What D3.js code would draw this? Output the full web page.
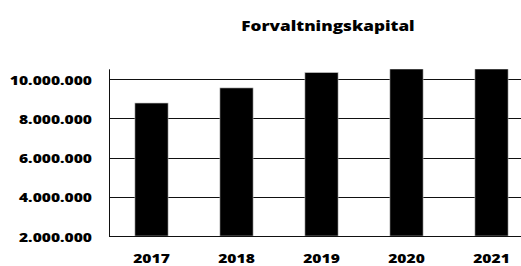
<!DOCTYPE html>
<html><head><meta charset="utf-8">
<script src="https://cdn.jsdelivr.net/npm/d3@7"></script>
<style>
html,body{margin:0;padding:0;background:#fff;}
svg{display:block;}
text{font-family:"Open Sans","Noto Sans",sans-serif;font-weight:800;fill:#000;}
</style></head>
<body>
<svg id="c" width="521" height="266"></svg>
<script>
const title = "Forvaltningskapital";
const years = ["2017","2018","2019","2020","2021"];
const values = [8780000, 9550000, 10330000, 10900000, 11000000];
const yTicks = [2000000, 4000000, 6000000, 8000000, 10000000];
const yDomain = [2000000, 10500000];

const svg = d3.select("#c");
const stretch = 1.3;
const pLeft = 109, pRight = 534, pTop = 69.3, pBottom = 236;

const x = d3.scaleBand().domain(years).range([pLeft, pRight]).paddingInner(0.61).paddingOuter(0.305);
const y = d3.scaleLinear().domain(yDomain).range([pBottom, pTop]);

const fmt = v => d3.format(",")(v).replace(/,/g, ".");

function stretchText(sel){
  sel.each(function(){
    const n = this.getComputedTextLength();
    d3.select(this).attr("textLength", n*stretch).attr("lengthAdjust","spacingAndGlyphs");
  });
}

// gridlines
svg.append("g").selectAll("line").data(yTicks.slice(1)).join("line")
  .attr("x1", pLeft).attr("x2", 521)
  .attr("y1", d => Math.round(y(d)) + 0.5).attr("y2", d => Math.round(y(d)) + 0.5)
  .attr("stroke", "#111").attr("stroke-width", 1);

// clip
svg.append("clipPath").attr("id","clip").append("rect")
  .attr("x", pLeft).attr("y", pTop).attr("width", pRight-pLeft).attr("height", pBottom-pTop);

// bars
svg.append("g").attr("clip-path","url(#clip)").selectAll("rect").data(years).join("rect")
  .attr("x", d => x(d)).attr("width", x.bandwidth())
  .attr("y", (d,i) => y(values[i])).attr("height", (d,i) => pBottom - y(values[i]))
  .attr("fill", "#000").attr("stroke", "#bbb").attr("stroke-width", 0.6);

// axes lines
svg.append("line").attr("x1", pLeft+0.5).attr("x2", pLeft+0.5).attr("y1", pTop).attr("y2", pBottom)
  .attr("stroke", "#111");
svg.append("line").attr("x1", pLeft).attr("x2", 521).attr("y1", pBottom+0.5).attr("y2", pBottom+0.5)
  .attr("stroke", "#111");

// y labels
svg.append("g").selectAll("text").data(yTicks).join("text")
  .attr("x", 92).attr("y", d => y(d) + 5.5)
  .attr("text-anchor", "end").attr("font-size", 12)
  .text(d => fmt(d)).call(stretchText);

// x labels
svg.append("g").selectAll("text").data(years).join("text")
  .attr("x", d => x(d) + x.bandwidth()/2).attr("y", 262.5)
  .attr("text-anchor", "middle").attr("font-size", 12)
  .text(d => d).call(stretchText);

// title
svg.append("text").attr("x", 328).attr("y", 31).attr("text-anchor", "middle")
  .attr("font-size", 13.2).text(title).call(stretchText);
</script>
</body></html>
